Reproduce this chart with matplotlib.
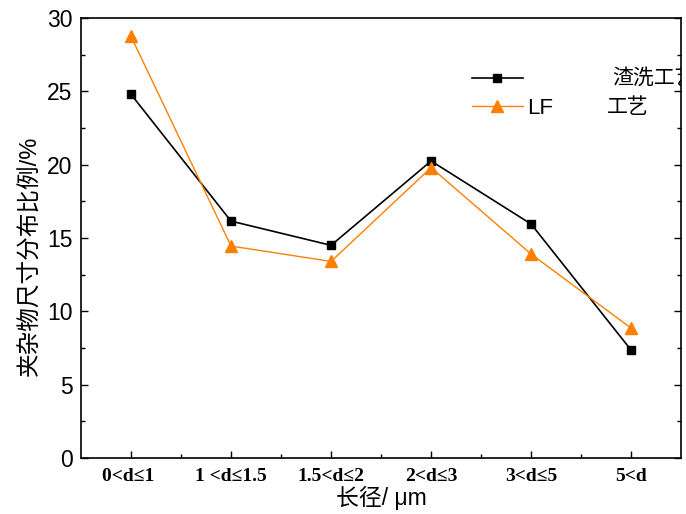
import matplotlib
matplotlib.use("Agg")
import matplotlib.pyplot as plt
from matplotlib.ticker import MultipleLocator, FixedLocator

plt.rcParams['font.family'] = ['Liberation Sans', 'Noto Sans CJK SC', 'DejaVu Sans']

categories = ["0<d≤1 ", "1 <d≤1.5", "1.5<d≤2", "2<d≤3", "3<d≤5", "5<d"]
slag_wash = [24.8, 16.15, 14.5, 20.25, 15.95, 7.35]
lf_refine = [28.75, 14.45, 13.4, 19.8, 13.9, 8.85]

x = list(range(1, len(categories) + 1))

fig = plt.figure(figsize=(6.86, 5.14), dpi=100)
ax = fig.add_axes([0.118, 0.109, 0.875, 0.856])

ax.plot(x, slag_wash, "-", color="black", linewidth=1.2,
        marker="s", markersize=6, label=" ")
ax.plot(x, lf_refine, "-", color="#FF8000", linewidth=1.0,
        marker="^", markersize=8, label="LF")

ax.set_xlim(0.5, 6.5)
ax.set_ylim(0, 30)
ax.set_xticks(x)
ax.set_xticklabels(categories, family=['Liberation Serif', 'Noto Sans CJK SC'],
                   fontsize=14, fontweight="bold")
ax.xaxis.set_minor_locator(FixedLocator([1.5, 2.5, 3.5, 4.5, 5.5]))
ax.yaxis.set_major_locator(MultipleLocator(5))
ax.yaxis.set_minor_locator(MultipleLocator(2.5))
ax.tick_params(which="both", direction="in", top=False, right=True, width=1.0)
ax.tick_params(which="major", length=5)
ax.tick_params(which="minor", length=3)
ax.tick_params(axis="y", labelsize=16.5, pad=6)
ax.tick_params(axis="x", pad=7)
for s in ax.spines.values():
    s.set_linewidth(1.2)

ax.set_ylabel("夹杂物尺寸分布比例/%", fontsize=17)
ax.yaxis.set_label_coords(-0.066, 0.459)
ax.set_xlabel("长径/ μm", fontsize=16.5, labelpad=1)

ax.legend(loc="upper left", bbox_to_anchor=(0.618, 0.927), frameon=False,
          fontsize=16, handlelength=2.3, labelspacing=0.3, handletextpad=0.2)
ax.text(0.885, 0.862, "渣洗工艺", transform=ax.transAxes, fontsize=15,
        va="center", ha="left", clip_on=True)
ax.text(0.877, 0.798, "工艺", transform=ax.transAxes, fontsize=15,
        va="center", ha="left", clip_on=True)

plt.savefig("out.png", dpi=100)
plt.close()
